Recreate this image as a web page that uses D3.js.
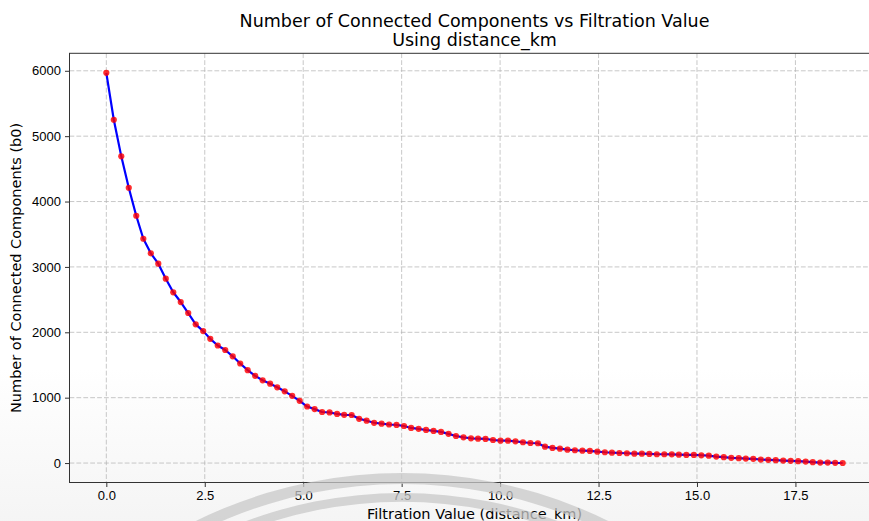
<!DOCTYPE html>
<html>
<head>
<meta charset="utf-8">
<script src="https://cdn.jsdelivr.net/npm/d3@7"></script>
<style>
  body { margin: 0; background: #fff; }
  svg { display: block; font-family: "DejaVu Sans", sans-serif; }
  .tick text { font-size: 13px; fill: #000; }
  .grid line { stroke: #b0b0b0; stroke-opacity: 0.7; stroke-dasharray: 4.8, 2.1; }
</style>
</head>
<body>
<script>
// filtration values (distance_km)
var filtration = [
  0.00, 0.19, 0.38, 0.57, 0.76, 0.94, 1.13, 1.32, 1.51, 1.70,
  1.89, 2.08, 2.27, 2.46, 2.64, 2.83, 3.02, 3.21, 3.40, 3.59,
  3.78, 3.97, 4.16, 4.34, 4.53, 4.72, 4.91, 5.10, 5.29, 5.48,
  5.67, 5.86, 6.04, 6.23, 6.42, 6.61, 6.80, 6.99, 7.18, 7.37,
  7.56, 7.74, 7.93, 8.12, 8.31, 8.50, 8.69, 8.88, 9.07, 9.26,
  9.44, 9.63, 9.82, 10.01, 10.20, 10.39, 10.58, 10.77, 10.96, 11.14,
  11.33, 11.52, 11.71, 11.90, 12.09, 12.28, 12.47, 12.66, 12.84, 13.03,
  13.22, 13.41, 13.60, 13.79, 13.98, 14.17, 14.36, 14.54, 14.73, 14.92,
  15.11, 15.30, 15.49, 15.68, 15.87, 16.06, 16.24, 16.43, 16.62, 16.81,
  17.00, 17.19, 17.38, 17.57, 17.76, 17.94, 18.13, 18.32, 18.51, 18.70
];

// number of connected components (b0)
var components = [
  5969, 5251, 4691, 4211, 3783, 3431, 3208, 3049, 2820, 2612,
  2463, 2295, 2122, 2018, 1900, 1798, 1729, 1633, 1523, 1421,
  1334, 1266, 1214, 1159, 1097, 1028, 952, 865, 825, 781,
  774, 751, 738, 735, 677, 648, 616, 602, 590, 583,
  567, 537, 524, 506, 491, 476, 447, 414, 394, 379,
  373, 369, 353, 343, 343, 333, 318, 307, 303, 251,
  231, 220, 205, 196, 190, 185, 174, 165, 159, 154,
  150, 144, 144, 139, 135, 135, 134, 128, 124, 124,
  119, 113, 99, 90, 80, 75, 69, 64, 54, 49,
  44, 38, 34, 29, 23, 14, 8, 8, 3, 1
];

var xTicks = [0, 2.5, 5, 7.5, 10, 12.5, 15, 17.5];
var yTicks = [0, 1000, 2000, 3000, 4000, 5000, 6000];

var titleLines = ["Number of Connected Components vs Filtration Value", "Using distance_km"];
var xLabel = "Filtration Value (distance_km)";
var yLabel = "Number of Connected Components (b0)";

var width = 869, height = 521;
var margin = { top: 53.3, right: -10.5, bottom: 38.5, left: 69.5 };
var plotW = width - margin.left - margin.right;
var plotH = height - margin.top - margin.bottom;

var points = filtration.map(function (f, i) {
  return { x: f, y: components[i] };
});

// matplotlib style 5% padding round the data
var xPad = (d3.max(filtration) - d3.min(filtration)) * 0.05;
var yPad = (d3.max(components) - d3.min(components)) * 0.05;

var x = d3.scaleLinear()
  .domain([d3.min(filtration) - xPad, d3.max(filtration) + xPad])
  .range([0, plotW]);
var y = d3.scaleLinear()
  .domain([d3.min(components) - yPad, d3.max(components) + yPad])
  .range([plotH, 0]);

var svg = d3.select("body").append("svg")
  .attr("width", width)
  .attr("height", height);

// faint shading near the bottom of the picture
var grad = svg.append("defs").append("linearGradient")
  .attr("id", "fade").attr("x1", 0).attr("y1", 0).attr("x2", 0).attr("y2", 1);
grad.append("stop").attr("offset", "0%").attr("stop-color", "#f2f2f2").attr("stop-opacity", 0);
grad.append("stop").attr("offset", "100%").attr("stop-color", "#f2f2f2").attr("stop-opacity", 0.8);

svg.append("rect")
  .attr("x", 0).attr("y", 368)
  .attr("width", width).attr("height", height - 368)
  .attr("fill", "url(#fade)");

var g = svg.append("g")
  .attr("transform", "translate(" + margin.left + "," + margin.top + ")");

// grid
g.append("g")
  .attr("class", "grid")
  .selectAll("line")
  .data(xTicks).enter()
  .append("line")
  .attr("x1", function (d) { return x(d); })
  .attr("x2", function (d) { return x(d); })
  .attr("y1", 0).attr("y2", plotH);

g.append("g")
  .attr("class", "grid")
  .selectAll("line")
  .data(yTicks).enter()
  .append("line")
  .attr("x1", 0).attr("x2", plotW)
  .attr("y1", function (d) { return y(d); })
  .attr("y2", function (d) { return y(d); });

// axes
var xAxis = d3.axisBottom(x)
  .tickValues(xTicks)
  .tickFormat(d3.format(".1f"))
  .tickSize(4.5).tickPadding(4);
var yAxis = d3.axisLeft(y)
  .tickValues(yTicks)
  .tickFormat(d3.format("d"))
  .tickSize(4.5).tickPadding(4);

g.append("g")
  .attr("class", "x axis")
  .attr("transform", "translate(0," + plotH + ")")
  .call(xAxis)
  .call(function (s) { s.select(".domain").remove(); });

g.append("g")
  .attr("class", "y axis")
  .call(yAxis)
  .call(function (s) { s.select(".domain").remove(); });

g.selectAll(".tick line").attr("stroke", "#333");

// line + markers
var line = d3.line()
  .x(function (d) { return x(d.x); })
  .y(function (d) { return y(d.y); });

g.append("path")
  .datum(points)
  .attr("fill", "none")
  .attr("stroke", "#0000ff")
  .attr("stroke-width", 2.2)
  .attr("stroke-linejoin", "round")
  .attr("d", line);

g.selectAll(".dot")
  .data(points).enter()
  .append("circle")
  .attr("class", "dot")
  .attr("cx", function (d) { return x(d.x); })
  .attr("cy", function (d) { return y(d.y); })
  .attr("r", 3.1)
  .attr("fill", "#ff0000")
  .attr("fill-opacity", 0.82);

// spines
g.append("rect")
  .attr("x", 0).attr("y", 0)
  .attr("width", plotW).attr("height", plotH)
  .attr("fill", "none")
  .attr("stroke", "#333")
  .attr("stroke-width", 1);

// titles
svg.append("g")
  .selectAll("text")
  .data(titleLines).enter()
  .append("text")
  .attr("x", margin.left + plotW / 2)
  .attr("y", function (d, i) { return 27 + i * 18.5; })
  .attr("text-anchor", "middle")
  .attr("font-size", "17.5px")
  .text(function (d) { return d; });

svg.append("text")
  .attr("x", margin.left + plotW / 2)
  .attr("y", 518.5)
  .attr("text-anchor", "middle")
  .attr("font-size", "14.5px")
  .text(xLabel);

svg.append("text")
  .attr("transform", "translate(20.5," + (margin.top + plotH / 2) + ") rotate(-90)")
  .attr("text-anchor", "middle")
  .attr("font-size", "14.5px")
  .text(yLabel);

// watermark rings at the bottom
var ring = d3.arc().startAngle(-Math.PI / 2).endAngle(Math.PI / 2);
var wm = svg.append("g")
  .attr("transform", "translate(402,940)")
  .attr("fill", "#c8c8c8")
  .attr("fill-opacity", 0.75);
wm.append("path").attr("d", ring({ innerRadius: 456, outerRadius: 467 }));
wm.append("path").attr("d", ring({ innerRadius: 438, outerRadius: 447 }));
</script>
</body>
</html>
